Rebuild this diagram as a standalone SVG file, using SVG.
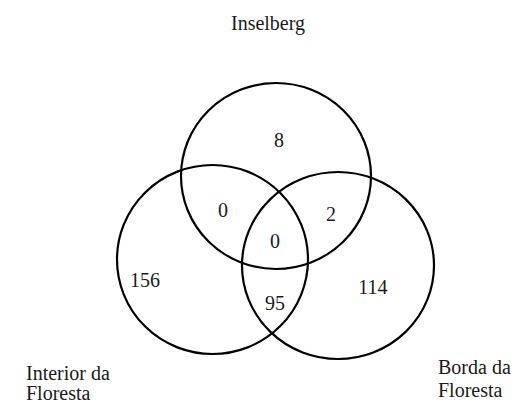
<svg xmlns="http://www.w3.org/2000/svg" width="525" height="403" viewBox="0 0 525 403">
<style>
.c{fill:none;stroke:#000;stroke-width:2.2}
.t{font-family:"Liberation Serif","Times New Roman",serif;font-size:20px;fill:#1a1a1a}
.n{text-anchor:middle}
</style>
<rect width="525" height="403" fill="#fff"/>
<g id="connectors"/>
<g id="inselberg">
<ellipse class="c" cx="276" cy="176" rx="95" ry="93"/>
<text class="t n" x="268" y="30">Inselberg</text>
</g>
<g id="interior">
<ellipse class="c" cx="212.5" cy="259.5" rx="95.5" ry="94.5"/>
<text class="t" x="26" y="380">Interior da</text>
<text class="t" x="26" y="400">Floresta</text>
</g>
<g id="borda">
<ellipse class="c" cx="338" cy="265.5" rx="96" ry="93.5"/>
<text class="t" x="438" y="374">Borda da</text>
<text class="t" x="438" y="397">Floresta</text>
</g>
<g id="counts">
<text class="t n" x="279" y="147">8</text>
<text class="t n" x="223" y="217">0</text>
<text class="t n" x="331" y="221">2</text>
<text class="t n" x="275" y="248">0</text>
<text class="t n" x="145" y="287">156</text>
<text class="t n" x="275" y="310">95</text>
<text class="t n" x="373" y="294">114</text>
</g>
</svg>
